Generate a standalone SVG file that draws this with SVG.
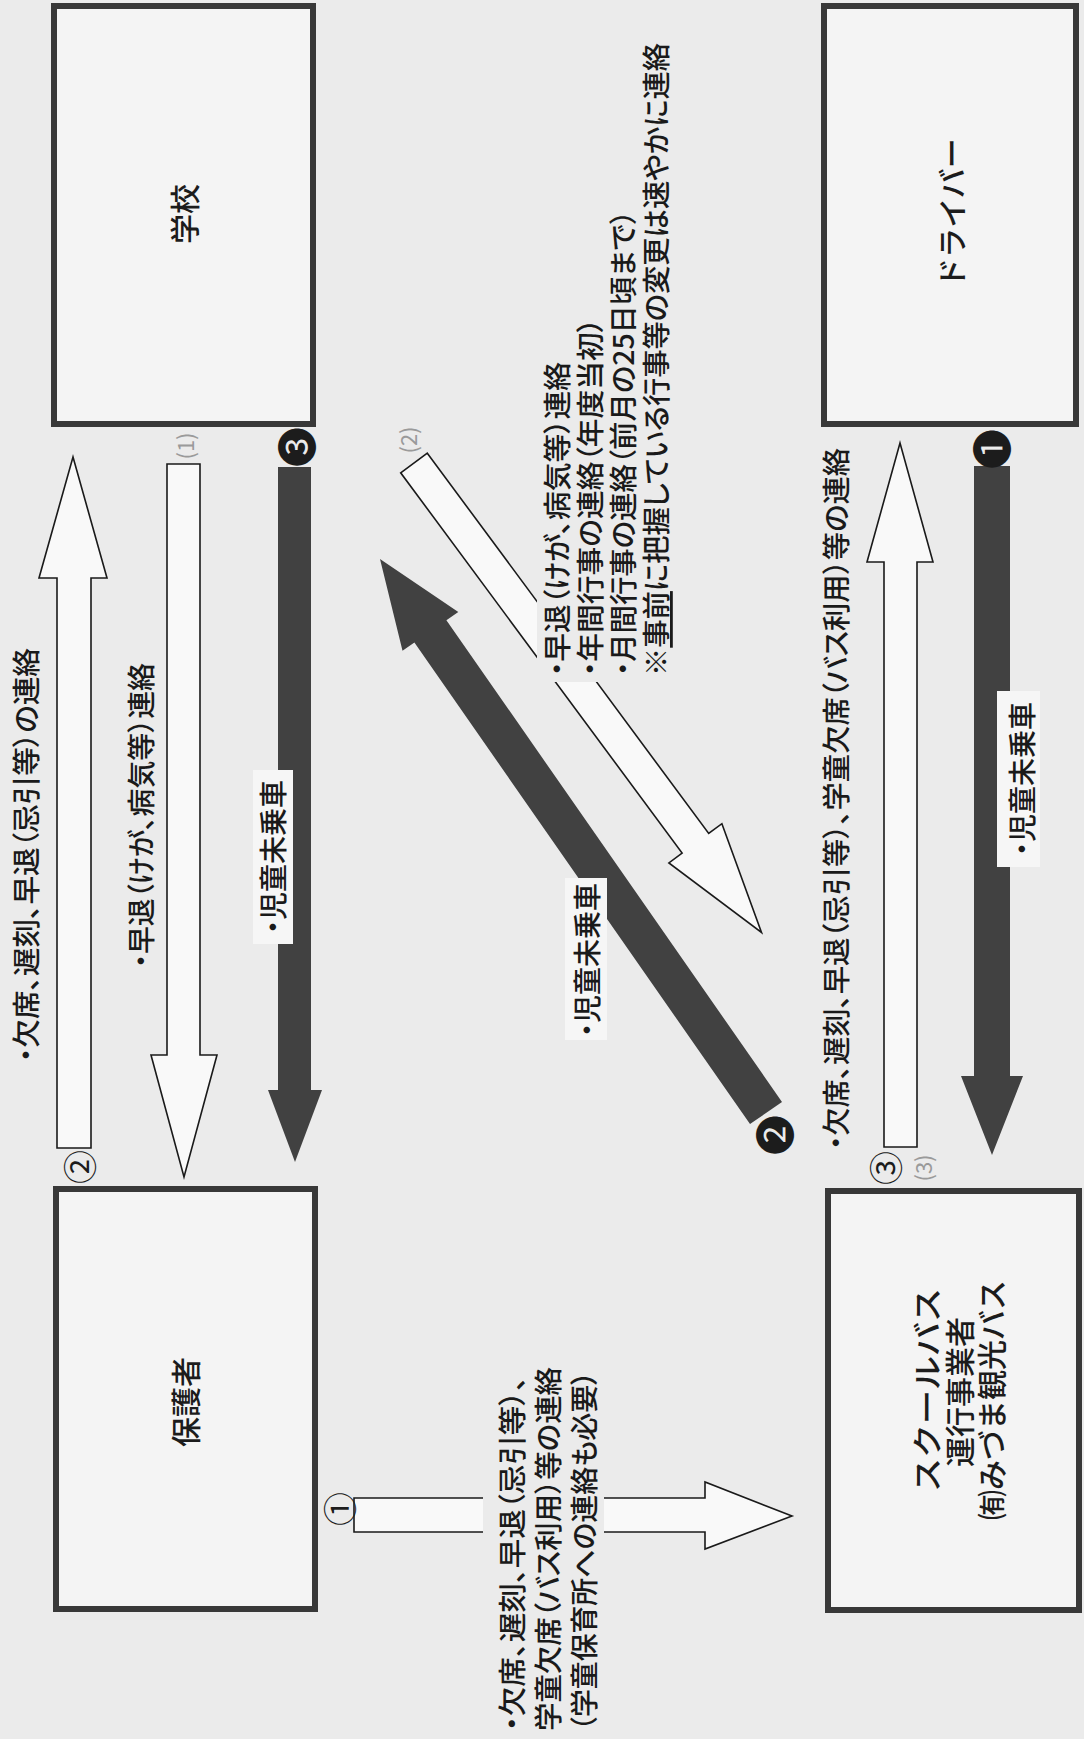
<svg xmlns="http://www.w3.org/2000/svg" width="1084" height="1739" viewBox="0 0 1084 1739">
<style>
.bg{fill:#ebebeb}
.box{fill:#f4f4f4;stroke:#383838;stroke-width:6}
.hollow{fill:#f9f9f9;stroke:#1a1a1a;stroke-width:1.6;stroke-linejoin:miter}
.dark{fill:#414141}
.mask{fill:#ebebeb}
.wbg{fill:#f6f6f6}
.t{font-family:"Noto Sans CJK JP","Noto Sans CJK SC",sans-serif;fill:#1a1a1a;font-size:28px;font-weight:500;font-feature-settings:"palt"}
.name{font-family:"Noto Sans CJK JP","Noto Sans CJK SC",sans-serif;fill:#1c1c1c;font-size:30px;font-weight:500}
.num{font-family:"Noto Sans CJK JP","DejaVu Sans",sans-serif;fill:#1c1c1c;font-size:40px}
.cnum{font-family:"Noto Sans CJK JP","DejaVu Sans",sans-serif;fill:#1c1c1c;font-size:34px}
.par{font-family:"Noto Sans CJK JP","DejaVu Sans",sans-serif;fill:#9a9a9a;font-size:22px}
</style>
<rect class="bg" x="0" y="0" width="1084" height="1739"/>

<g id="node-school">
<rect class="box" x="54" y="6" width="259" height="418"/>
<text class="name" transform="translate(183,214) rotate(-90)" text-anchor="middle" dominant-baseline="central">学校</text>
</g>
<g id="node-driver">
<rect class="box" x="824" y="6" width="252" height="418"/>
<text class="name" transform="translate(950,213) rotate(-90)" text-anchor="middle" dominant-baseline="central" font-size="28">ドライバー</text>
</g>
<g id="node-guardian">
<rect class="box" x="56" y="1189" width="259" height="420"/>
<text class="name" transform="translate(184,1402) rotate(-90)" text-anchor="middle" dominant-baseline="central">保護者</text>
</g>
<g id="node-bus">
<rect class="box" x="828" y="1191" width="251" height="419"/>
<text class="name" transform="translate(925,1390) rotate(-90)" text-anchor="middle" dominant-baseline="central" textLength="204" lengthAdjust="spacingAndGlyphs">スクールバス</text>
<text class="name" transform="translate(958,1392) rotate(-90)" text-anchor="middle" dominant-baseline="central">運行事業者</text>
<text class="name" transform="translate(990,1400) rotate(-90)" text-anchor="middle" dominant-baseline="central">㈲みづま観光バス</text>
</g>

<g id="connectors">
<!-- ② guardian -> school -->
<polygon class="hollow" points="57,1148 91,1148 91,578 107,578 73,457 39,578 57,578"/>
<text class="cnum" transform="translate(78,1167) rotate(-90)" text-anchor="middle" dominant-baseline="central">②</text>
<text class="t" transform="translate(25,1062) rotate(-90)" dominant-baseline="central" textLength="414" lengthAdjust="spacingAndGlyphs">・欠席、遅刻、早退（忌引等）の連絡</text>

<!-- (1) school -> guardian -->
<polygon class="hollow" points="167,464 200,464 200,1055 217,1055 184,1177 151,1055 167,1055"/>
<text class="par" transform="translate(184,446) rotate(-90)" text-anchor="middle" dominant-baseline="central">(1)</text>
<text class="t" transform="translate(140,968) rotate(-90)" dominant-baseline="central" textLength="305" lengthAdjust="spacingAndGlyphs">・早退（けが、病気等）連絡</text>

<!-- ❸ school -> guardian -->
<polygon class="dark" points="278,467 311,467 311,1090 322,1090 295,1162 268,1090 278,1090"/>
<text class="num" transform="translate(295,447) rotate(-90)" text-anchor="middle" dominant-baseline="central">❸</text>
<rect class="wbg" x="253" y="770" width="40" height="174"/>
<text class="t" transform="translate(272,857) rotate(-90)" text-anchor="middle" dominant-baseline="central">・児童未乗車</text>

<!-- (2) school -> bus (diagonal) -->
<polygon class="hollow" points="427.3,453.2 708.7,833.5 721.9,823.7 761.5,932.5 668.9,862.9 682.1,853.1 400.7,472.8"/>
<text class="par" transform="translate(407,440) rotate(-90)" text-anchor="middle" dominant-baseline="central">(2)</text>
<rect class="mask" x="537" y="30" width="140" height="652"/>
<text class="t" transform="translate(556,676) rotate(-90)" dominant-baseline="central" textLength="314" lengthAdjust="spacingAndGlyphs">・早退（けが、病気等）連絡</text>
<text class="t" transform="translate(589,676) rotate(-90)" dominant-baseline="central" textLength="358" lengthAdjust="spacingAndGlyphs">・年間行事の連絡（年度当初）</text>
<text class="t" transform="translate(622,676) rotate(-90)" dominant-baseline="central" textLength="466" lengthAdjust="spacingAndGlyphs">・月間行事の連絡（前月の25日頃まで）</text>
<text class="t" transform="translate(655,676) rotate(-90)" dominant-baseline="central" textLength="633" lengthAdjust="spacingAndGlyphs">※<tspan style="text-decoration:underline">事前</tspan>に把握している行事等の変更は速やかに連絡</text>

<!-- ❷ bus -> school (diagonal dark) -->
<polygon class="dark" points="782,1101.9 446.4,620.2 458.3,612 380,559 402.5,650.8 414.4,642.6 750,1124.1"/>
<text class="num" transform="translate(773,1135) rotate(-90)" text-anchor="middle" dominant-baseline="central">❷</text>
<rect class="wbg" x="565" y="878" width="42" height="162"/>
<text class="t" transform="translate(586,960) rotate(-90)" text-anchor="middle" dominant-baseline="central">・児童未乗車</text>

<!-- ③ bus -> driver -->
<polygon class="hollow" points="884,1147 917,1147 917,562 933,562 900,443 867,562 884,562"/>
<text class="cnum" transform="translate(884,1168) rotate(-90)" text-anchor="middle" dominant-baseline="central">③</text>
<text class="par" transform="translate(922,1168) rotate(-90)" text-anchor="middle" dominant-baseline="central">(3)</text>
<text class="t" transform="translate(835,1150) rotate(-90)" dominant-baseline="central" textLength="702" lengthAdjust="spacingAndGlyphs">・欠席、遅刻、早退（忌引等）、学童欠席（バス利用）等の連絡</text>

<!-- ❶ driver -> bus -->
<polygon class="dark" points="974,466 1010,466 1010,1076 1023,1076 992,1155 961,1076 974,1076"/>
<text class="num" transform="translate(990,449) rotate(-90)" text-anchor="middle" dominant-baseline="central">❶</text>
<rect class="wbg" x="997" y="691" width="43" height="176"/>
<text class="t" transform="translate(1021,779) rotate(-90)" text-anchor="middle" dominant-baseline="central">・児童未乗車</text>

<!-- ① guardian -> bus -->
<polygon class="hollow" points="354,1498 705,1498 705,1482 792,1516 705,1549 705,1532 354,1532"/>
<text class="cnum" transform="translate(338,1509) rotate(-90)" text-anchor="middle" dominant-baseline="central">①</text>
<rect class="mask" x="483" y="1492" width="121" height="46"/>
<text class="t" transform="translate(511,1731) rotate(-90)" dominant-baseline="central" textLength="355" lengthAdjust="spacingAndGlyphs">・欠席、遅刻、早退（忌引等）、</text>
<text class="t" transform="translate(547,1731) rotate(-90)" dominant-baseline="central" textLength="364" lengthAdjust="spacingAndGlyphs">学童欠席（バス利用）等の連絡</text>
<text class="t" transform="translate(583,1731) rotate(-90)" dominant-baseline="central" textLength="360" lengthAdjust="spacingAndGlyphs">（学童保育所への連絡も必要）</text>
</g>
</svg>
